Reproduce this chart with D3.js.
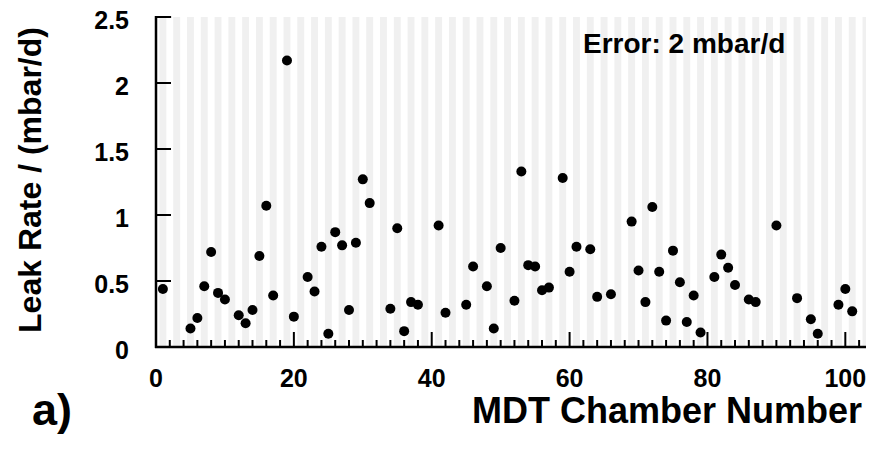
<!DOCTYPE html>
<html>
<head>
<meta charset="utf-8">
<script src="https://cdnjs.cloudflare.com/ajax/libs/d3/7.8.5/d3.min.js"></script>
<style>
  body { margin: 0; background: #fff; }
  text { font-family: "Liberation Sans", Arial, Helvetica, sans-serif; font-weight: bold; fill: #000; }
</style>
</head>
<body>
<svg width="874" height="450"></svg>
<script>
// chamber numbers and measured leak rates (mbar/d)
var chambers = [1, 5, 6, 7, 8, 9, 10, 12, 13, 14, 15, 16, 17, 19, 20, 22, 23, 24, 25, 26,
  27, 28, 29, 30, 31, 34, 35, 36, 37, 38, 41, 42, 45, 46, 48, 49, 50, 52, 53, 54,
  55, 56, 57, 59, 60, 61, 63, 64, 66, 69, 70, 71, 72, 73, 74, 75, 76, 77, 78, 79,
  81, 82, 83, 84, 86, 87, 90, 93, 95, 96, 99, 100, 101];
var leakRates = [0.44, 0.14, 0.22, 0.46, 0.72, 0.41, 0.36, 0.24, 0.18, 0.28, 0.69, 1.07, 0.39, 2.17, 0.23, 0.53, 0.42, 0.76, 0.10, 0.87,
  0.77, 0.28, 0.79, 1.27, 1.09, 0.29, 0.90, 0.12, 0.34, 0.32, 0.92, 0.26, 0.32, 0.61, 0.46, 0.14, 0.75, 0.35, 1.33, 0.62,
  0.61, 0.43, 0.45, 1.28, 0.57, 0.76, 0.74, 0.38, 0.40, 0.95, 0.58, 0.34, 1.06, 0.57, 0.20, 0.73, 0.49, 0.19, 0.39, 0.11,
  0.53, 0.70, 0.60, 0.47, 0.36, 0.34, 0.92, 0.37, 0.21, 0.10, 0.32, 0.44, 0.27];
var xTicks = [0, 20, 40, 60, 80, 100];
var yTicks = [0, 0.5, 1, 1.5, 2, 2.5];

var data = chambers.map(function(c, i) { return { chamber: c, rate: leakRates[i] }; });

var svg = d3.select('svg');

var x = d3.scaleLinear().domain([0, 103]).range([156, 866]);
var y = d3.scaleLinear().domain([0, 2.5]).range([347, 17]);

// shaded band behind every odd chamber
var bands = d3.range(1, 104, 2);
svg.append('g')
  .selectAll('rect')
  .data(bands)
  .enter().append('rect')
    .attr('x', function(d) { return x(d - 0.5); })
    .attr('y', y(2.5))
    .attr('width', function(d) { return x(Math.min(d + 0.5, 103)) - x(d - 0.5); })
    .attr('height', y(0) - y(2.5))
    .attr('fill', '#f0f0f0');

// short grey line at the top of the frame
svg.append('line')
  .attr('x1', x(0)).attr('x2', x(2.3))
  .attr('y1', y(2.5)).attr('y2', y(2.5))
  .attr('stroke', '#bbb')
  .attr('stroke-width', 1);

// X axis: minor ticks every 2, major every 20, drawn upward
var xAxis = svg.append('g').attr('transform', 'translate(0,' + y(0) + ')');
xAxis.selectAll('line.minor')
  .data(d3.range(0, 103, 2))
  .enter().append('line')
    .attr('x1', function(d) { return x(d); })
    .attr('x2', function(d) { return x(d); })
    .attr('y1', 0)
    .attr('y2', function(d) { return d % 20 === 0 ? -15 : -7; })
    .attr('stroke', '#000')
    .attr('stroke-width', 2);
xAxis.append('line')
  .attr('x1', x(0) - 1).attr('x2', x(103))
  .attr('y1', 0).attr('y2', 0)
  .attr('stroke', '#000')
  .attr('stroke-width', 2.5);
xAxis.selectAll('text')
  .data(xTicks)
  .enter().append('text')
    .attr('x', function(d) { return x(d); })
    .attr('y', 40)
    .attr('text-anchor', 'middle')
    .style('font-size', '25px')
    .text(function(d) { return d; });

// Y axis
var yAxis = svg.append('g').attr('transform', 'translate(' + x(0) + ',0)');
yAxis.append('line')
  .attr('x1', 0).attr('x2', 0)
  .attr('y1', y(2.5) - 1).attr('y2', y(0) + 1)
  .attr('stroke', '#000')
  .attr('stroke-width', 2.5);
yAxis.selectAll('line.tick')
  .data(yTicks)
  .enter().append('line')
    .attr('x1', 0).attr('x2', 15)
    .attr('y1', function(d) { return y(d); })
    .attr('y2', function(d) { return y(d); })
    .attr('stroke', '#000')
    .attr('stroke-width', 2);
yAxis.selectAll('text')
  .data(yTicks)
  .enter().append('text')
    .attr('x', -27)
    .attr('y', function(d) { return y(d) + 12; })
    .attr('text-anchor', 'end')
    .style('font-size', '25px')
    .text(function(d) { return d; });

// points
svg.append('g')
  .selectAll('circle')
  .data(data)
  .enter().append('circle')
    .attr('cx', function(d) { return x(d.chamber); })
    .attr('cy', function(d) { return y(d.rate); })
    .attr('r', 5)
    .attr('fill', '#000');

// titles
svg.append('text')
  .attr('transform', 'translate(41,180) rotate(-90)')
  .attr('text-anchor', 'middle')
  .style('font-size', '32px')
  .text('Leak Rate / (mbar/d)');

svg.append('text')
  .attr('x', 862)
  .attr('y', 423)
  .attr('text-anchor', 'end')
  .style('font-size', '36px')
  .text('MDT Chamber Number');

svg.append('text')
  .attr('x', 583)
  .attr('y', 53)
  .style('font-size', '28px')
  .text('Error: 2 mbar/d');

svg.append('text')
  .attr('x', 32)
  .attr('y', 425)
  .style('font-size', '45px')
  .text('a)');
</script>
</body>
</html>
